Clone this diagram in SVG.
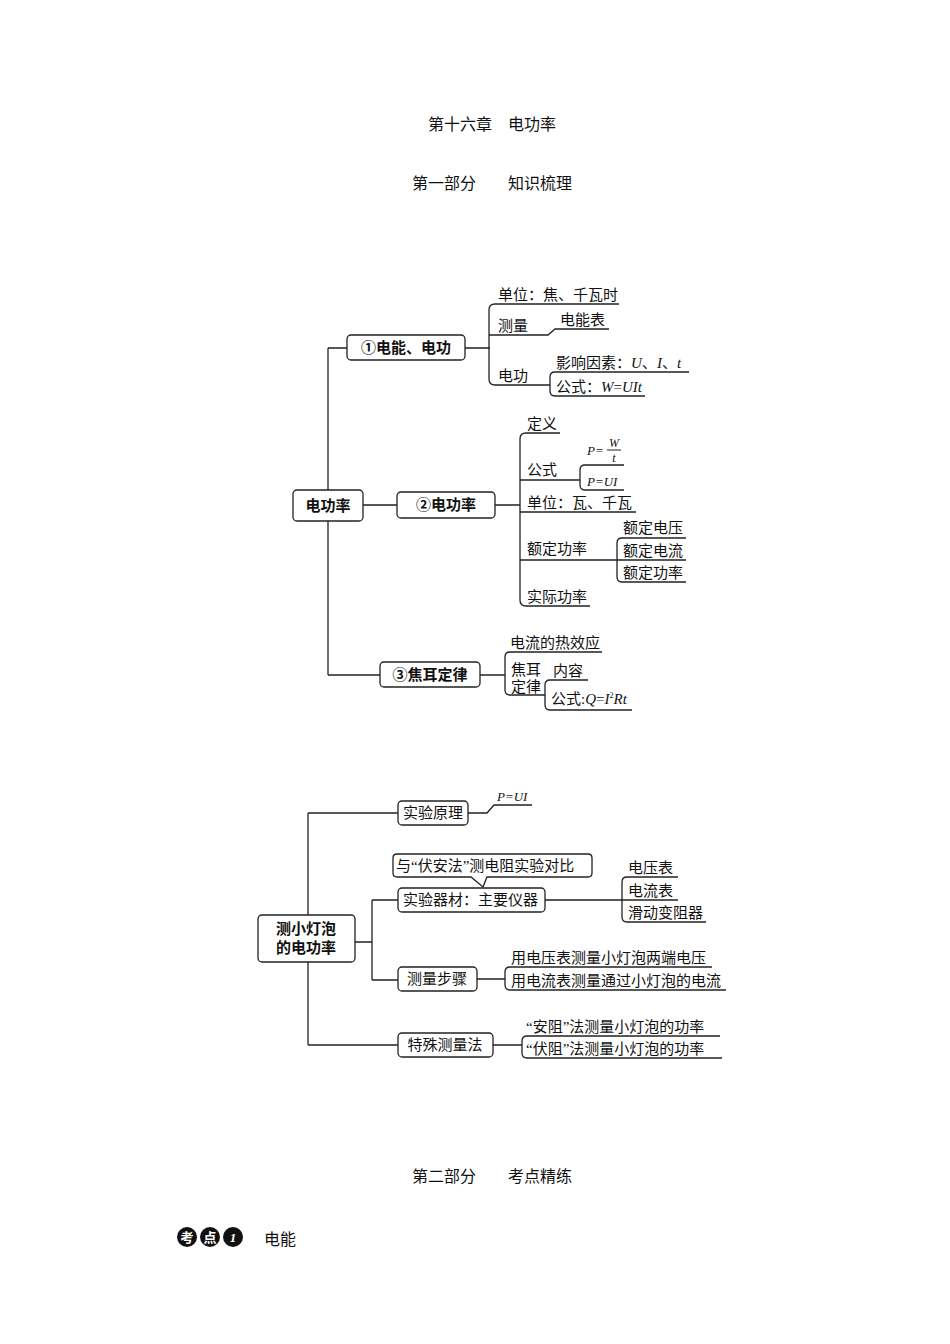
<svg xmlns="http://www.w3.org/2000/svg" width="950" height="1344" viewBox="0 0 950 1344">
<style>
text{font-family:"Liberation Serif","Noto Sans CJK SC",serif;font-size:15px;fill:#111}
.h{font-size:16px}
.b{font-size:15px;font-weight:bold}
.i{font-style:italic;font-family:"Liberation Serif",serif}
.box{fill:#fff;stroke:#222;stroke-width:1.3}
.ln{fill:none;stroke:#222;stroke-width:1.3}
</style>
<rect width="950" height="1344" fill="#fff"/>
<text class="h" x="492" y="130" text-anchor="middle">第十六章　电功率</text>
<text class="h" x="492" y="189" text-anchor="middle">第一部分　　知识梳理</text>
<text class="h" x="492" y="1182" text-anchor="middle">第二部分　　考点精练</text>
<g id="kaodian">
<circle cx="187" cy="1237" r="10" fill="#111"/><circle cx="210" cy="1237" r="10" fill="#111"/><circle cx="233" cy="1237" r="10" fill="#111"/>
<text x="187" y="1242" text-anchor="middle" style="fill:#fff;font-size:13px;font-weight:bold">考</text>
<text x="210" y="1242" text-anchor="middle" style="fill:#fff;font-size:13px;font-weight:bold">点</text>
<text x="233" y="1242" text-anchor="middle" style="fill:#fff;font-size:13px;font-style:italic;font-weight:bold">1</text>
<text class="h" x="264" y="1245">电能</text>
</g>
<g id="connectors">
<path class="ln" d="M328 348V675M328 348H347M328 675H380M363 505H397M465 348H490M495 505H520M480 675H505"/>
<path class="ln" d="M619 304H495Q489 304 489 310V379Q489 385 495 385H548M489 335H548L555 329H609"/>
<path class="ln" d="M689 372H555Q550 372 550 377V391Q550 396 555 396H645M548 385H550"/>
<path class="ln" d="M560 433H526Q520 433 520 439V600Q520 606 526 606H590M520 480H578M520 512H636M520 560H617"/>
<path class="ln" d="M624 465H585Q580 465 580 470V485Q580 490 585 490H624M578 480H580"/>
<path class="ln" d="M686 538H622Q617 538 617 543V577Q617 582 622 582H686M617 560H686"/>
<path class="ln" d="M602 652H510Q505 652 505 657V690Q505 695 510 695H545"/>
<path class="ln" d="M588 680H550Q545 680 545 685V705Q545 710 550 710H632"/>
<path class="ln" d="M308 813V1045M308 813H398M308 1045H398M355 942H372M372 900V980M372 900H398M372 980H398"/>
<path class="ln" d="M468 813H487L494 805H532M545 900H622"/>
<path class="ln" d="M678 877H627Q622 877 622 882V917Q622 922 627 922H706M622 900H678"/>
<path class="ln" d="M477 979H505M712 967H510Q505 967 505 972V985Q505 990 510 990H726"/>
<path class="ln" d="M493 1045H522M720 1036H527Q522 1036 522 1041V1053Q522 1058 527 1058H722"/>
</g>
<g id="root1"><rect class="box" x="293" y="490" width="70" height="31" rx="4"/><text class="b" x="328" y="511" text-anchor="middle">电功率</text></g>
<g id="n1"><rect class="box" x="347" y="335" width="118" height="25" rx="4"/><text class="b" x="406" y="353" text-anchor="middle">①电能、电功</text></g>
<g id="n1a"><text x="498" y="300">单位：焦、千瓦时</text></g>
<g id="n1b"><text x="498" y="331">测量</text><text x="560" y="325">电能表</text></g>
<g id="n1c"><text x="498" y="381">电功</text><text x="556" y="368">影响因素：<tspan class="i">U</tspan>、<tspan class="i">I</tspan>、<tspan class="i">t</tspan></text><text x="556" y="392">公式：<tspan class="i">W</tspan>=<tspan class="i">UIt</tspan></text></g>
<g id="n2"><rect class="box" x="397" y="492" width="98" height="26" rx="4"/><text class="b" x="446" y="510" text-anchor="middle">②电功率</text></g>
<g id="n2a"><text x="527" y="429">定义</text></g>
<g id="n2b"><text x="527" y="475">公式</text>
<text class="i" x="587" y="455" style="font-size:13px">P=</text><text class="i" x="614" y="447" text-anchor="middle" style="font-size:12px">W</text><line x1="607" y1="450" x2="621" y2="450" stroke="#222"/><text class="i" x="614" y="462" text-anchor="middle" style="font-size:12px">t</text>
<text class="i" x="587" y="486" style="font-size:13px">P=UI</text></g>
<g id="n2c"><text x="527" y="508">单位：瓦、千瓦</text></g>
<g id="n2d"><text x="527" y="554">额定功率</text><text x="623" y="533">额定电压</text><text x="623" y="556">额定电流</text><text x="623" y="578">额定功率</text></g>
<g id="n2e"><text x="527" y="602">实际功率</text></g>
<g id="n3"><rect class="box" x="380" y="662" width="100" height="25" rx="4"/><text class="b" x="430" y="680" text-anchor="middle">③焦耳定律</text></g>
<g id="n3a"><text x="510" y="648">电流的热效应</text><text x="511" y="675">焦耳</text><text x="511" y="692">定律</text><text x="553" y="676">内容</text><text x="551" y="704">公式:<tspan class="i">Q</tspan>=<tspan class="i">I</tspan><tspan style="font-size:8px" dy="-6">2</tspan><tspan class="i" dy="6">Rt</tspan></text></g>
<g id="root2"><rect class="box" x="258" y="915" width="97" height="47" rx="4"/><text class="b" x="306" y="934" text-anchor="middle">测小灯泡</text><text class="b" x="306" y="953" text-anchor="middle">的电功率</text></g>
<g id="m1"><rect class="box" x="398" y="801" width="70" height="24" rx="4"/><text x="433" y="818" text-anchor="middle">实验原理</text><text class="i" x="497" y="801" style="font-size:13px">P=UI</text></g>
<g id="callout"><path class="box" d="M397 854H588Q592 854 592 858V873Q592 877 588 877H487L483 887L471 877H397Q393 877 393 873V858Q393 854 397 854Z"/><text x="396" y="871">与“伏安法”测电阻实验对比</text></g>
<g id="m2"><rect class="box" x="398" y="888" width="147" height="24" rx="4"/><text x="403" y="905">实验器材：主要仪器</text><text x="628" y="873">电压表</text><text x="628" y="896">电流表</text><text x="628" y="918">滑动变阻器</text></g>
<g id="m3"><rect class="box" x="398" y="967" width="79" height="24" rx="4"/><text x="437" y="984" text-anchor="middle">测量步骤</text><text x="511" y="963">用电压表测量小灯泡两端电压</text><text x="511" y="986">用电流表测量通过小灯泡的电流</text></g>
<g id="m4"><rect class="box" x="398" y="1033" width="95" height="24" rx="4"/><text x="445" y="1050" text-anchor="middle">特殊测量法</text><text x="526" y="1032">“安阻”法测量小灯泡的功率</text><text x="526" y="1054">“伏阻”法测量小灯泡的功率</text></g>
</svg>
